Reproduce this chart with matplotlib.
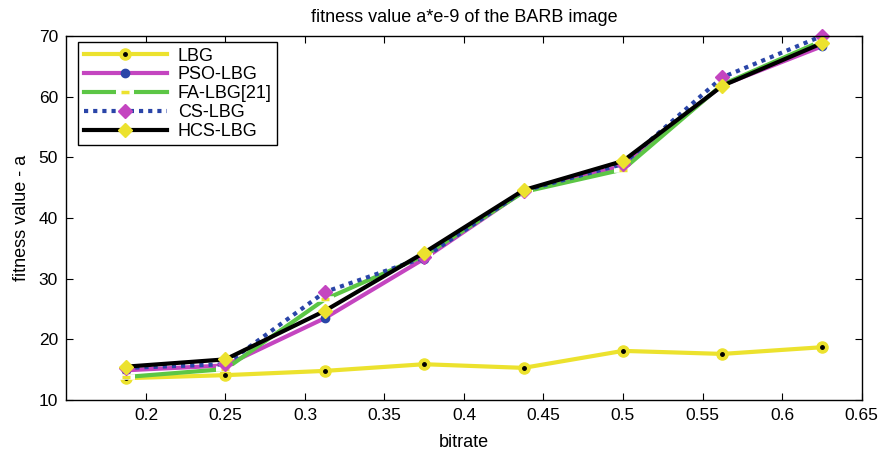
import matplotlib
matplotlib.use("Agg")
import matplotlib.pyplot as plt

# bitrate values (bits per pixel) and fitness values (a*e-9)
bitrate = [0.1875, 0.25, 0.3125, 0.375, 0.4375, 0.5, 0.5625, 0.625]
lbg = [13.6, 14.1, 14.8, 15.9, 15.3, 18.1, 17.6, 18.7]
pso_lbg = [14.9, 15.7, 23.5, 33.3, 44.4, 48.6, 61.9, 68.3]
fa_lbg = [13.8, 15.1, 26.6, 33.8, 44.3, 48.0, 62.0, 69.2]
cs_lbg = [15.3, 15.9, 27.8, 33.5, 44.5, 48.9, 63.2, 70.0]
hcs_lbg = [15.5, 16.7, 24.7, 34.3, 44.6, 49.4, 61.8, 68.8]

xticks = [0.2, 0.25, 0.3, 0.35, 0.4, 0.45, 0.5, 0.55, 0.6, 0.65]
yticks = [10, 20, 30, 40, 50, 60, 70]

plt.rcParams['font.family'] = ['Liberation Sans', 'DejaVu Sans']

YEL = '#ece22e'
MAG = '#c445c0'
BLU = '#2a45a8'
GRN = '#5cc645'

fig = plt.figure(figsize=(8.8, 4.58), dpi=100)
ax = fig.add_axes([0.0755, 0.1266, 0.9035, 0.7947])

lw = 3
h1 = ax.plot(bitrate, lbg, color=YEL, lw=lw, marker='o', ms=8,
             mfc=YEL, mec=YEL, clip_on=False)[0]
h1b = ax.plot(bitrate, lbg, ls='none', marker='o', ms=2.5,
              mfc='black', mec='black', clip_on=False)[0]
h2 = ax.plot(bitrate, pso_lbg, color=MAG, lw=lw, marker='o', ms=6,
             mfc=BLU, mec=BLU, clip_on=False)[0]
h3 = ax.plot(bitrate, fa_lbg, color=GRN, lw=lw, clip_on=False)[0]
h3w = ax.plot(bitrate, fa_lbg, ls='none', marker='_', ms=13, mew=4,
              mec='white', clip_on=False)[0]
h3y = ax.plot(bitrate, fa_lbg, ls='none', marker='_', ms=6, mew=2.5,
              mec=YEL, clip_on=False)[0]
h4 = ax.plot(bitrate, cs_lbg, color=BLU, lw=lw, ls=(0, (1, 1.2)), marker='D',
             ms=7, mfc=MAG, mec=MAG, clip_on=False)[0]
h5 = ax.plot(bitrate, hcs_lbg, color='black', lw=lw, marker='D', ms=7,
             mfc=YEL, mec=YEL, clip_on=False)[0]

ax.set_xlim(0.15, 0.65)
ax.set_ylim(10, 70)
ax.set_xticks(xticks)
ax.set_xticklabels([f"{t:g}" for t in xticks])
ax.set_yticks(yticks)
ax.tick_params(direction='in', top=True, right=True, labelsize=12.5,
               length=5, pad=6)
for s in ax.spines.values():
    s.set_linewidth(1.0)

ax.set_title('fitness value a*e-9 of the BARB image', fontsize=13, pad=10)
ax.set_xlabel('bitrate', fontsize=13, labelpad=8)
ax.set_ylabel('fitness value - a', fontsize=13, labelpad=6)

leg = ax.legend([(h1, h1b), h2, (h3, h3w, h3y), h4, h5],
                ['LBG', 'PSO-LBG', 'FA-LBG[21]', 'CS-LBG', 'HCS-LBG'],
                loc='upper left', bbox_to_anchor=(0.015, 0.983),
                borderaxespad=0, fontsize=13, fancybox=False,
                edgecolor='black', framealpha=1, handlelength=4.6,
                borderpad=0.3, labelspacing=0.1, handletextpad=0.6)
leg.get_frame().set_linewidth(1.0)

fig.savefig('out.png', dpi=100)
